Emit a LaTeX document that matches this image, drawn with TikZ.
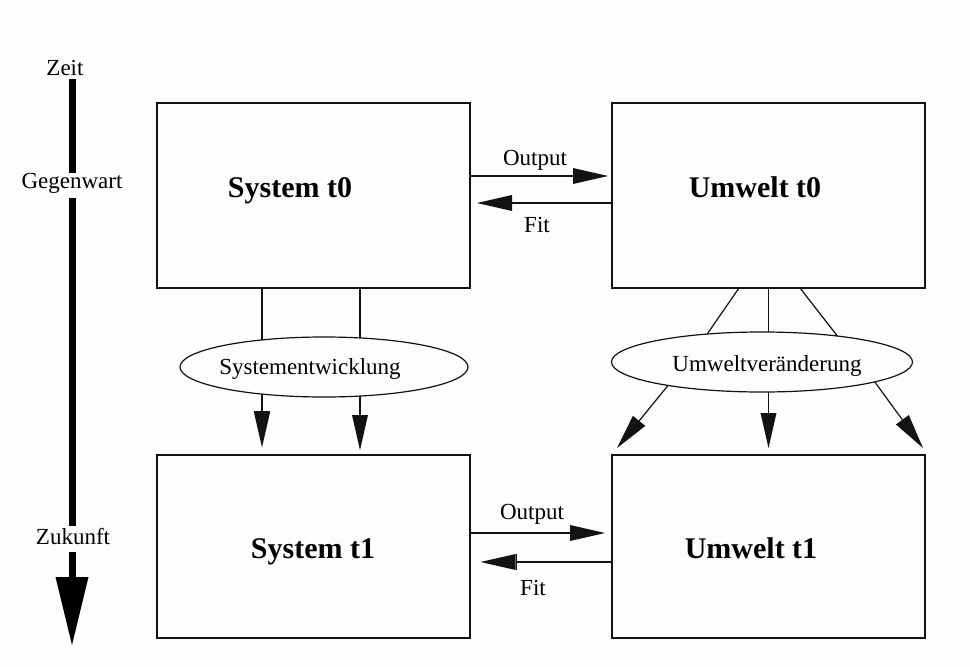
\documentclass[tikz,border=0pt]{standalone}
\usepackage{fontspec}
\setmainfont{Liberation Serif}
\usetikzlibrary{arrows.meta,shapes.geometric,calc}
\definecolor{pagebg}{RGB}{254,252,252}
\definecolor{ink}{RGB}{18,18,18}

\begin{document}
\begin{tikzpicture}[x=1pt,y=-1pt,
  box/.style={draw=ink,line width=1.6pt,minimum width=313pt,minimum height=185pt,
    inner sep=0pt,outer sep=0pt,anchor=north west},
  boxtext/.style={font=\fontsize{30}{34}\selectfont\bfseries,anchor=base,inner sep=0pt},
  lbl/.style={font=\fontsize{23}{27}\selectfont,anchor=base,inner sep=0pt},
  blob/.style={ellipse,draw=ink,line width=1.2pt,inner sep=0pt,outer sep=0pt},
  link/.style={draw=ink,line width=1.2pt},
  flow/.style={link,-{Triangle[length=35pt,width=16pt,line width=0pt]}},
  barflow/.style={link,-{Bar[width=16pt,line width=1.4pt] Triangle[length=35pt,width=16pt,line width=0pt,sep=2.5pt]}},
  timeline/.style={draw=black,line width=7pt},
]
% page
\fill[pagebg] (0,0) rectangle (970,667);

% time axis
\coordinate (ax) at (72,0);
\node[lbl] (zeit) at (65,75) {Zeit};
\node[lbl] (gegen) at (72,188) {Gegenwart};
\node[lbl] (zuk) at (73,544) {Zukunft};
\draw[timeline] ($(zeit.base -| ax)+(0,4)$) -- (gegen.north -| ax);
\draw[timeline] ($(gegen.base -| ax)+(0,10)$) -- ($(zuk.base -| ax)+(0,-18)$);
\draw[timeline,-{Triangle[length=68pt,width=33pt,line width=0pt]}]
  ($(zuk.base -| ax)+(0,8)$) -- ($(zuk.base -| ax)+(0,101)$);

% boxes
\node[box] (s0) at (157,103) {};
\node[box] (u0) at (612,103) {};
\node[box,minimum height=183pt] (s1) at (157,455) {};
\node[box,minimum height=183pt] (u1) at (612,455) {};
\node[boxtext] at (290,197) {System t0};
\node[boxtext] at (755,197) {Umwelt t0};
\node[boxtext] at (313,558) {System t1};
\node[boxtext] at (751,558) {Umwelt t1};

% exchange between system and environment
\draw[flow,shorten >=4pt] (s0.east |- 0,176) -- (u0.west |- 0,176);
\draw[flow,shorten >=7pt] (u0.west |- 0,203) -- (s0.east |- 0,203);
\node[lbl] at (535,165) {Output};
\node[lbl] at (537,232) {Fit};
\draw[flow,shorten >=7pt] (s1.east |- 0,533) -- (u1.west |- 0,533);
\draw[barflow,shorten >=8pt] (u1.west |- 0,562) -- (s1.east |- 0,562);
\node[lbl] at (532,519) {Output};
\node[lbl] at (533,595) {Fit};

% system development
\node[blob,minimum width=288pt,minimum height=60pt] (e1) at (324,367) {};
\node[lbl] at (310,374) {Systementwicklung};
\coordinate (sxa) at (262,0);
\coordinate (sxb) at (360,0);
\draw[link] (s0.south -| sxa) -- (e1.156 -| sxa);
\draw[link] (s0.south -| sxb) -- (e1.39 -| sxb);
\draw[barflow,shorten >=5pt] (e1.204 -| sxa) -- (s1.north -| sxa);
\draw[flow,shorten >=5pt] (e1.321 -| sxb) -- (s1.north -| sxb);

% environmental change
\node[blob,minimum width=301pt,minimum height=60pt] (e2) at (762,362) {};
\node[lbl] at (767,371) {Umweltveränderung};
\draw[link] (u0.south -| 739,0) -- (e2.153);
\draw[link] (u0.south) -- (e2.north -| u0.south);
\draw[link] (u0.south -| 800,0) -- (e2.19);
\draw[flow] (e2.194) -- ($(u1.north west)+(5,-7)$);
\draw[flow,shorten >=7pt] (e2.south -| u1.north) -- (u1.north);
\draw[flow] (e2.350) -- ($(u1.north east)+(-2,-7)$);
\end{tikzpicture}
\end{document}
